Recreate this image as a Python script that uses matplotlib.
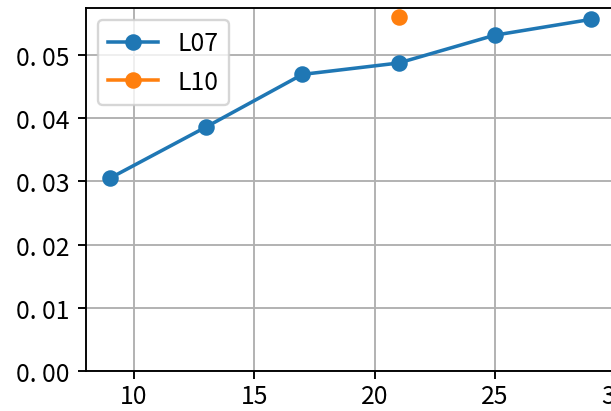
import matplotlib
matplotlib.use("Agg")
import matplotlib.pyplot as plt

plt.rcParams['font.family'] = ['Noto Sans CJK JP', 'DejaVu Sans']
plt.rcParams['font.size'] = 10.5
plt.rcParams['xtick.major.pad'] = 1.5

x_l07 = [9, 13, 17, 21, 25, 29]
y_l07 = [0.0305, 0.0386, 0.0469, 0.0487, 0.0531, 0.0556]
x_l10 = [21]
y_l10 = [0.0560]

dpi = 170
fig = plt.figure(figsize=(611 / dpi, 412 / dpi), dpi=dpi)
ax = fig.add_axes([86 / 611, (412 - 372) / 412, (615 - 86) / 611, (372 - 9) / 412])
ax.plot(x_l07, y_l07, marker='o', label='L07')
ax.plot(x_l10, y_l10, marker='o', label='L10')
ax.set_xlim(8, 30)
ax.set_ylim(0, 0.0574)
ax.set_yticks([0.0, 0.01, 0.02, 0.03, 0.04, 0.05])
ax.set_yticklabels(['0. 00', '0. 01', '0. 02', '0. 03', '0. 04', '0. 05'])
ax.grid(True)
ax.legend(loc='upper left')
fig.savefig('out.png', dpi=dpi)
